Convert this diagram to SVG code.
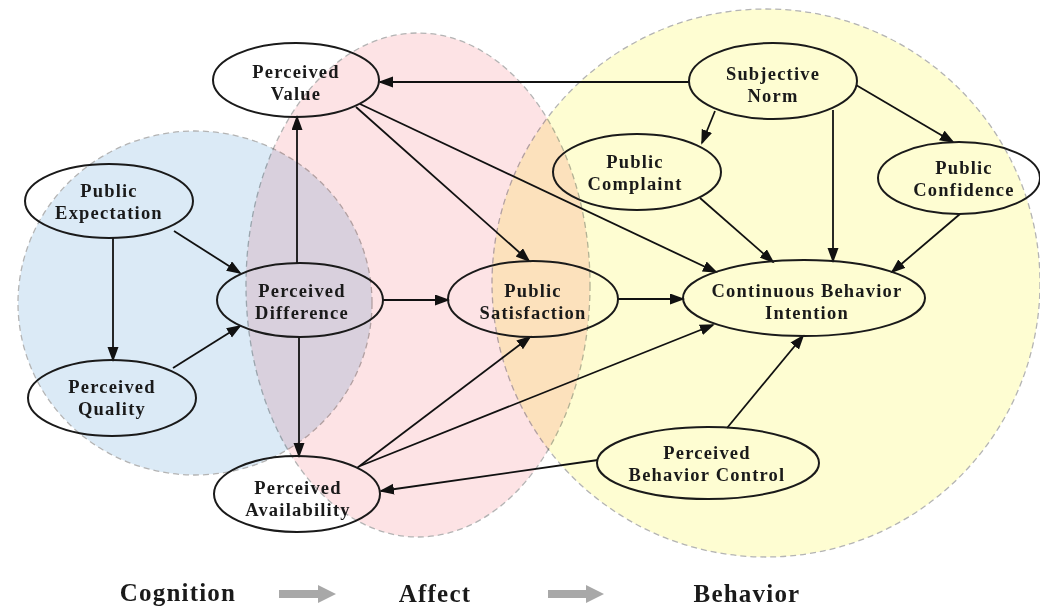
<svg xmlns="http://www.w3.org/2000/svg" width="1040" height="609" viewBox="0 0 1040 609">
<style>
.zone{stroke:#b4b4b4;stroke-width:1.3;stroke-dasharray:6 4;mix-blend-mode:multiply}
.node{fill:none;stroke:#1a1a1a;stroke-width:2}
.lbl{font-family:"Liberation Serif","DejaVu Serif",serif;font-weight:bold;font-size:18.5px;letter-spacing:1.2px;fill:#1a1a1a;text-anchor:middle}
.stage{font-family:"Liberation Serif","DejaVu Serif",serif;font-weight:bold;font-size:25px;letter-spacing:1.2px;fill:#1a1a1a;text-anchor:middle}
.edge{stroke:#111;stroke-width:1.8;fill:none;marker-end:url(#ah)}
.garrow{fill:#a8a8a8}
</style>
<defs>
<marker id="ah" markerUnits="userSpaceOnUse" markerWidth="16" markerHeight="12" refX="13" refY="5.5" orient="auto">
<path d="M0,0 L15,5.5 L0,11 z" fill="#111"/>
</marker>
</defs>
<rect width="1040" height="609" fill="#fff"/>
<g id="zones" style="isolation:isolate">
<ellipse class="zone" cx="195" cy="303" rx="177" ry="172" fill="#dbeaf6"/>
<ellipse class="zone" cx="418" cy="285" rx="172" ry="252" fill="#fde3e5"/>
<circle class="zone" cx="766" cy="283" r="274" fill="#fefdd2"/>
</g>
<g id="connectors">
<line class="edge" x1="689" y1="82" x2="380" y2="82"/>
<line class="edge" x1="715" y1="111" x2="702" y2="143"/>
<line class="edge" x1="833" y1="110" x2="833" y2="261"/>
<line class="edge" x1="856" y1="85" x2="953" y2="142"/>
<line class="edge" x1="700" y1="198" x2="773" y2="262"/>
<line class="edge" x1="960" y1="214" x2="892" y2="272"/>
<line class="edge" x1="360" y1="104" x2="716" y2="272"/>
<line class="edge" x1="356" y1="107" x2="529" y2="261"/>
<line class="edge" x1="297" y1="263" x2="297" y2="117"/>
<line class="edge" x1="174" y1="231" x2="240" y2="273"/>
<line class="edge" x1="113" y1="238" x2="113" y2="360"/>
<line class="edge" x1="173" y1="368" x2="240" y2="326"/>
<line class="edge" x1="383" y1="300" x2="448" y2="300"/>
<line class="edge" x1="299" y1="337" x2="299" y2="456"/>
<line class="edge" x1="618" y1="299" x2="683" y2="299"/>
<line class="edge" x1="357" y1="468" x2="530" y2="337"/>
<line class="edge" x1="360" y1="466" x2="713" y2="325"/>
<line class="edge" x1="598" y1="460" x2="381" y2="491"/>
<line class="edge" x1="727" y1="428" x2="803" y2="336"/>
</g>
<g id="perceived-value"><ellipse class="node" cx="296" cy="80" rx="83" ry="37"/><text class="lbl" x="296" y="78">Perceived</text><text class="lbl" x="296" y="99.5">Value</text></g>
<g id="public-expectation"><ellipse class="node" cx="109" cy="201" rx="84" ry="37"/><text class="lbl" x="109" y="197">Public</text><text class="lbl" x="109" y="218.5">Expectation</text></g>
<g id="perceived-difference"><ellipse class="node" cx="300" cy="300" rx="83" ry="37"/><text class="lbl" x="302" y="297">Perceived</text><text class="lbl" x="302" y="318.5">Difference</text></g>
<g id="perceived-quality"><ellipse class="node" cx="112" cy="398" rx="84" ry="38"/><text class="lbl" x="112" y="393">Perceived</text><text class="lbl" x="112" y="414.5">Quality</text></g>
<g id="perceived-availability"><ellipse class="node" cx="297" cy="494" rx="83" ry="38"/><text class="lbl" x="298" y="494">Perceived</text><text class="lbl" x="298" y="515.5">Availability</text></g>
<g id="public-satisfaction"><ellipse class="node" cx="533" cy="299" rx="85" ry="38"/><text class="lbl" x="533" y="297">Public</text><text class="lbl" x="533" y="318.5">Satisfaction</text></g>
<g id="continuous-behavior-intention"><ellipse class="node" cx="804" cy="298" rx="121" ry="38"/><text class="lbl" x="807" y="297">Continuous Behavior</text><text class="lbl" x="807" y="318.5">Intention</text></g>
<g id="subjective-norm"><ellipse class="node" cx="773" cy="81" rx="84" ry="38"/><text class="lbl" x="773" y="80">Subjective</text><text class="lbl" x="773" y="101.5">Norm</text></g>
<g id="public-complaint"><ellipse class="node" cx="637" cy="172" rx="84" ry="38"/><text class="lbl" x="635" y="168">Public</text><text class="lbl" x="635" y="189.5">Complaint</text></g>
<g id="public-confidence"><ellipse class="node" cx="959" cy="178" rx="81" ry="36"/><text class="lbl" x="964" y="174">Public</text><text class="lbl" x="964" y="195.5">Confidence</text></g>
<g id="perceived-behavior-control"><ellipse class="node" cx="708" cy="463" rx="111" ry="36"/><text class="lbl" x="707" y="459">Perceived</text><text class="lbl" x="707" y="480.5">Behavior Control</text></g>
<g id="stages">
<text class="stage" x="178" y="601">Cognition</text>
<text class="stage" x="435" y="602">Affect</text>
<text class="stage" x="747" y="602">Behavior</text>
<path class="garrow" d="M279,590 L318,590 L318,585 L336,594 L318,603 L318,598 L279,598 z"/>
<path class="garrow" d="M548,590 L586,590 L586,585 L604,594 L586,603 L586,598 L548,598 z"/>
</g>
</svg>
